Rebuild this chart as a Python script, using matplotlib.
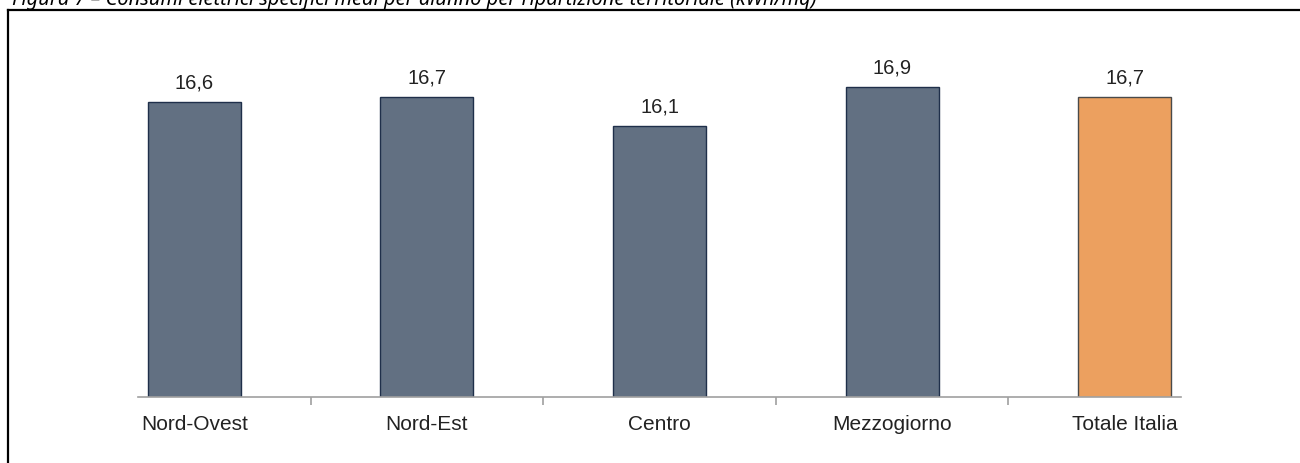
import matplotlib.pyplot as plt
from matplotlib.lines import Line2D

# dati
regioni = ["Nord-Ovest", "Nord-Est", "Centro", "Mezzogiorno", "Totale Italia"]
consumi = [16.6, 16.7, 16.1, 16.9, 16.7]
etichette = ["16,6", "16,7", "16,1", "16,9", "16,7"]
colori = ["#627082", "#627082", "#627082", "#627082", "#eca05f"]
bordi = ["#1f2f4a", "#1f2f4a", "#1f2f4a", "#1f2f4a", "#4a4a4a"]

W, H = 1300, 463
fig = plt.figure(figsize=(13, 4.63), dpi=100)

# titolo tagliato in alto
fig.text(12 / W, 1 - 5 / H,
         "Figura 7 – Consumi elettrici specifici medi per alunno per ripartizione territoriale (kWh/mq)",
         fontsize=14.4, style="italic", family="Noto Sans", va="baseline", ha="left")

# cornice
fig.add_artist(Line2D([8 / W, 1.0], [1 - 10 / H, 1 - 10 / H], color="black", lw=1.6,
                      transform=fig.transFigure))
fig.add_artist(Line2D([8 / W, 8 / W], [0, 1 - 10 / H], color="black", lw=1.6,
                      transform=fig.transFigure))

ax = fig.add_axes([138 / W, 1 - 397 / H, 1043 / W, 367 / H])
x = range(len(regioni))
ax.bar(x, consumi, width=0.4, color=colori, edgecolor=bordi, linewidth=1.0)
ax.set_ylim(10.59, 18.06)
ax.set_xlim(-0.243, 4.243)

for xi, v, t in zip(x, consumi, etichette):
    ax.annotate(t, (xi, v), xytext=(0, 7), textcoords="offset points",
                ha="center", va="bottom", fontsize=14.5,
                family="Liberation Sans", color="#222222")

for s in ["top", "right", "left"]:
    ax.spines[s].set_visible(False)
ax.spines["bottom"].set_color("#a0a0a0")
ax.spines["bottom"].set_linewidth(1.2)
ax.set_yticks([])

ax.set_xticks([0.5, 1.5, 2.5, 3.5])
ax.set_xticklabels([])
ax.tick_params(axis="x", which="major", length=6, color="#a0a0a0", width=1.2)
ax.set_xticks(list(x), minor=True)
ax.set_xticklabels(regioni, minor=True, fontsize=15, family="Liberation Sans",
                   color="#222222")
ax.tick_params(axis="x", which="minor", length=0, pad=13)

fig.savefig("out.png", dpi=100)
